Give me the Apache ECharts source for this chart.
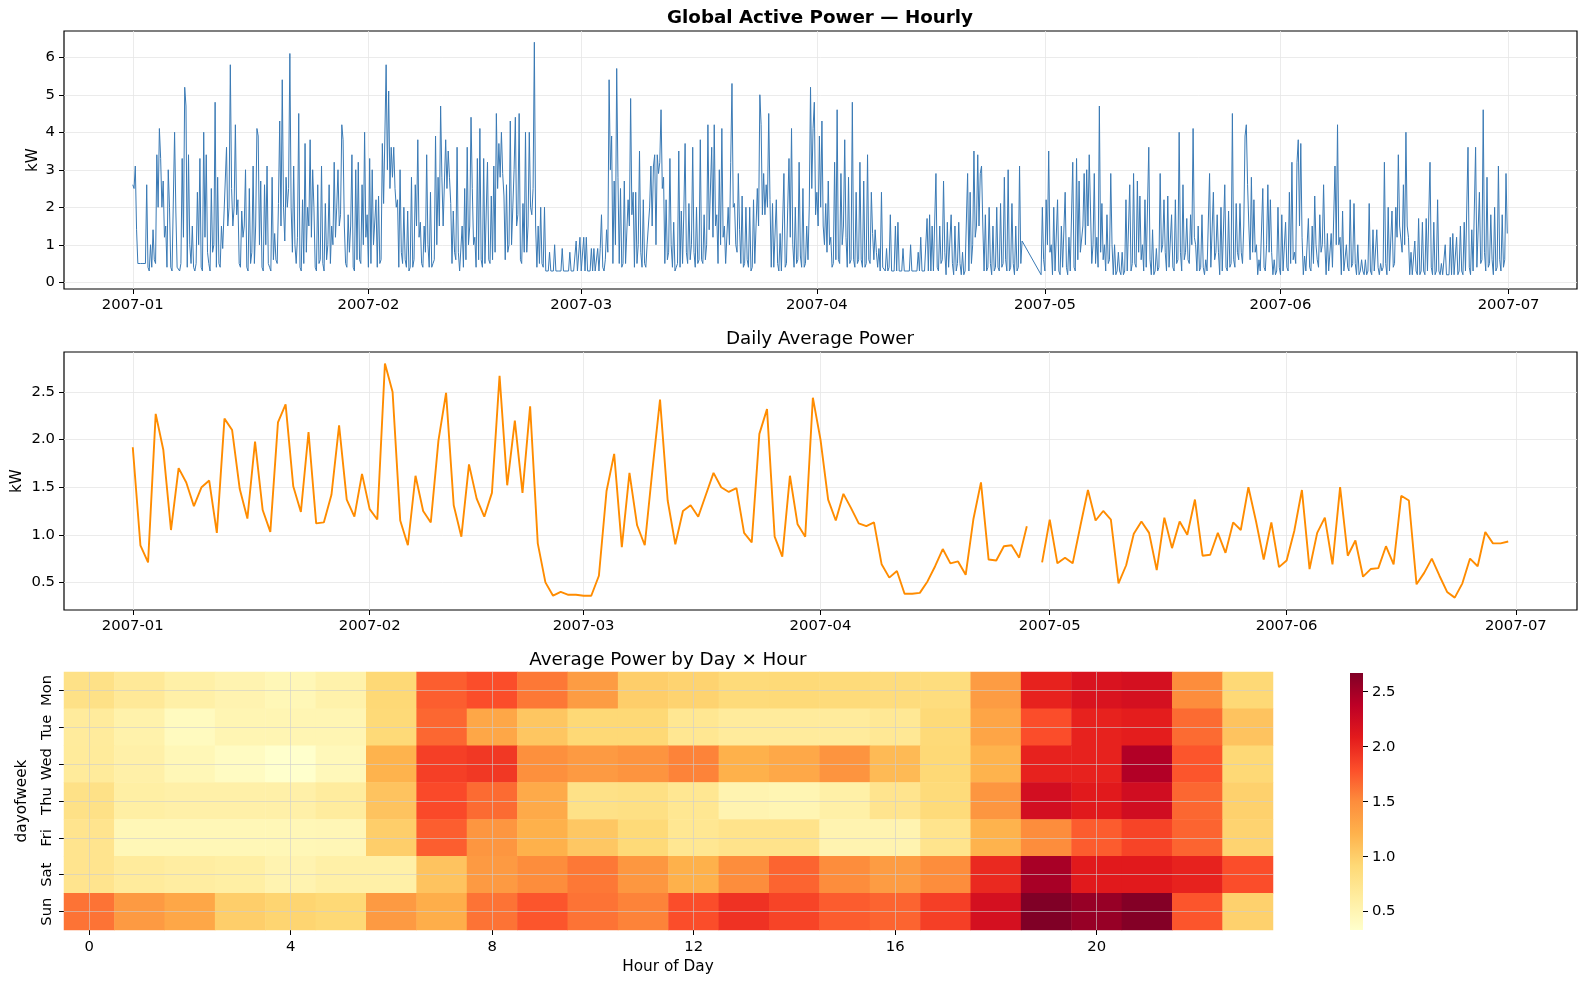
<!DOCTYPE html>
<html>
<head>
<meta charset="utf-8">
<title>Global Active Power</title>
<script src="https://cdn.jsdelivr.net/npm/echarts@6/dist/echarts.min.js"></script>
<style>
  html, body { margin: 0; padding: 0; background: #fff; }
  #main { width: 1587px; height: 986px; }
</style>
</head>
<body>
<div id="main"></div>
<script>
// ticks: day offset from 2007-01-01
var monthTicks = [0, 31, 59, 90, 120, 151, 181];
var monthLabels = ['2007-01', '2007-02', '2007-03', '2007-04', '2007-05', '2007-06', '2007-07'];
// hourly readings, sampled every 4 hours (0h,4h,8h,12h,16h,20h), one row per day
var slotHours = [0, 4, 8, 12, 16, 20];

var hourlyJan = [
  2.6,2.5,3.1,1.4,0.5,0.5,
  0.5,0.5,0.5,0.5,0.5,2.6,
  0.4,0.3,1.0,0.4,1.4,0.6,
  0.5,3.4,2.0,4.1,3.3,2.0,
  2.7,1.2,1.5,0.4,3.0,2.0,
  0.4,0.3,0.3,4.0,1.9,0.4,
  0.4,0.3,0.5,3.3,1.2,5.2,
  4.7,0.4,3.4,1.0,0.5,1.5,
  0.4,0.3,0.5,2.4,1.0,3.3,
  0.4,0.3,4.0,1.2,3.4,0.8,
  0.5,0.3,2.5,0.8,1.0,4.8,
  0.4,2.8,0.5,0.4,1.5,0.9,
  0.9,2.7,3.6,1.5,2.0,5.8,
  2.5,1.5,2.0,4.2,1.8,2.2,
  0.5,0.4,1.9,1.2,1.5,3.0,
  0.4,0.3,2.5,0.5,0.8,3.1,
  0.5,1.5,4.1,3.9,1.0,2.7,
  0.4,0.3,2.6,1.0,3.1,0.5,
  0.4,0.3,2.8,0.6,1.3,0.6,
  0.5,2.1,4.3,1.5,5.4,2.0,
  1.1,2.8,2.0,2.5,6.1,2.0,
  0.8,3.1,1.0,0.5,1.2,4.5,
  0.4,0.3,2.2,0.5,3.7,0.8,
  2.0,1.5,3.8,1.2,3.0,2.0,
  0.4,0.3,2.6,0.5,0.6,3.1,
  0.5,0.3,2.1,0.6,1.0,2.6,
  0.5,1.5,1.0,3.2,1.2,2.0,
  3.0,1.5,1.8,4.2,3.8,1.5,
  0.5,0.4,1.8,0.8,1.5,3.4,
  0.4,0.3,3.0,0.6,3.2,0.6,
  0.5,2.6,1.0,4.0,1.2,1.8
];
var hourlyFeb = [
  0.4,3.3,0.5,3.0,1.0,1.0,
  2.2,0.4,2.3,0.5,0.6,3.7,
  2.1,3.9,5.8,3.0,5.1,2.5,
  3.6,2.8,3.6,2.5,2.0,2.2,
  0.4,3.0,0.8,0.5,2.0,0.6,
  0.4,1.9,0.3,0.4,2.8,0.4,
  0.6,2.6,1.5,3.8,1.2,1.6,
  0.5,0.4,1.5,0.8,3.4,1.0,
  0.4,2.4,0.4,0.5,0.6,3.9,
  1.0,2.8,1.5,4.7,2.8,1.5,
  1.5,3.8,2.5,3.5,2.8,2.1,
  0.5,1.9,0.8,0.6,3.6,0.8,
  0.3,0.3,1.5,0.4,2.5,0.6,
  3.6,1.0,1.5,4.4,2.5,1.0,
  1.2,0.4,3.3,0.6,4.1,0.6,
  0.4,3.3,0.5,0.5,3.2,0.6,
  0.5,2.3,0.6,3.1,0.8,4.5,
  2.5,3.7,2.8,4.0,2.9,2.3,
  0.6,2.6,0.8,1.0,4.3,1.0,
  2.0,3.0,4.4,1.5,1.8,4.5,
  0.6,0.5,2.1,0.8,4.0,0.8,
  1.5,4.0,2.0,1.8,2.5,6.4,
  1.5,0.4,1.5,0.5,2.0,0.5,
  0.4,2.0,0.3,0.3,0.3,0.8,
  0.3,0.3,0.3,1.0,0.3,0.3,
  0.3,0.3,0.3,0.9,0.3,0.3,
  0.3,0.3,0.3,0.8,0.3,0.3,
  0.3,0.3,1.1,0.3,0.3,1.2
];
var hourlyMar = [
  0.3,0.3,1.2,0.3,1.2,0.3,
  0.3,0.3,0.9,0.3,0.9,0.3,
  0.3,0.9,0.3,0.9,1.8,0.4,
  0.3,0.6,1.4,0.8,5.4,3.0,
  3.9,0.5,2.7,1.0,5.7,2.8,
  0.5,2.5,0.4,0.5,2.7,0.5,
  0.5,2.2,1.5,4.9,1.8,2.4,
  0.4,2.4,0.5,1.0,3.5,0.8,
  0.4,2.2,0.5,0.4,1.0,1.0,
  2.0,3.1,1.5,3.1,3.4,1.0,
  3.4,2.9,3.2,4.6,2.5,2.8,
  0.5,2.2,0.6,0.8,3.3,1.0,
  0.4,1.6,0.3,0.4,0.5,3.5,
  0.4,1.9,0.5,1.9,3.7,0.8,
  0.5,2.1,0.6,1.0,3.6,0.8,
  0.4,2.0,0.5,0.6,3.8,0.6,
  0.5,1.8,0.6,1.0,4.2,1.4,
  1.4,3.6,1.2,4.2,1.5,1.8,
  0.5,3.0,1.0,4.1,1.2,1.5,
  0.5,0.5,2.0,1.0,3.2,5.3,
  2.0,2.1,1.0,0.8,2.9,1.4,
  0.5,2.3,0.4,0.5,2.0,0.6,
  0.4,2.0,0.3,0.4,2.2,0.5,
  1.5,2.5,1.5,5.0,4.2,1.8,
  2.9,1.8,2.6,2.0,4.5,2.2,
  0.4,2.1,0.4,0.4,2.2,0.5,
  0.3,1.3,0.3,0.3,2.9,0.4,
  0.5,2.0,3.3,1.2,4.1,1.0,
  0.4,2.0,0.5,0.6,3.2,0.7,
  0.4,2.5,0.4,0.5,1.5,0.6,
  2.0,5.2,2.5,4.1,4.8,1.8
];
var hourlyApr = [
  2.4,1.5,3.9,2.0,4.3,1.5,
  1.0,2.1,0.8,2.7,1.0,1.2,
  0.4,0.5,3.2,0.6,4.6,0.6,
  0.5,2.9,1.0,1.5,3.8,1.2,
  0.4,2.8,0.5,0.6,4.8,0.6,
  0.4,2.4,0.5,0.6,3.2,0.6,
  0.4,2.7,0.4,0.5,3.4,0.6,
  0.5,2.4,1.3,0.6,1.4,0.8,
  0.4,0.9,0.3,2.4,0.4,0.4,
  0.3,0.9,0.3,0.4,1.8,0.3,
  0.3,0.3,1.5,0.3,1.6,0.3,
  0.3,0.3,0.9,0.3,0.3,0.3,
  0.3,0.3,1.0,0.3,0.3,0.3,
  0.3,0.3,0.8,0.3,1.2,0.3,
  0.3,0.3,0.3,1.7,0.3,1.8,
  0.3,1.5,0.3,0.3,2.9,0.4,
  0.3,1.5,0.5,0.6,2.7,0.8,
  0.2,1.6,0.4,0.4,1.8,0.5,
  0.2,1.5,0.3,0.5,1.6,0.5,
  0.2,0.8,0.2,0.3,0.3,2.9,
  0.3,2.4,0.5,1.0,3.5,1.2,
  1.5,3.4,1.5,2.9,3.1,1.5,
  0.3,1.8,0.3,0.4,2.0,0.5,
  0.2,1.5,0.3,0.4,2.0,0.4,
  0.3,2.1,0.4,0.5,2.8,0.6,
  0.3,3.0,0.3,0.4,2.1,0.5,
  0.2,1.5,0.3,0.4,3.1,0.5,
  1.1,null,null,null,null,null,
  null,null,null,null,null,null,
  null,null,null,0.2,2.0,0.6
];
var hourlyMay = [
  0.3,2.2,1.0,3.5,0.8,1.0,
  0.2,2.0,0.3,0.3,2.2,0.3,
  0.2,1.5,0.4,0.4,2.4,0.4,
  0.2,1.2,0.3,0.3,3.2,0.4,
  0.3,3.3,0.6,2.7,0.8,0.8,
  1.5,2.9,1.0,3.0,1.5,3.4,
  3.4,0.5,1.0,2.9,0.5,1.2,
  0.4,4.7,0.8,2.1,0.6,1.0,
  0.3,1.8,0.5,0.6,2.9,1.0,
  0.2,1.0,0.2,0.3,0.8,0.3,
  0.2,0.8,0.2,0.3,2.2,0.3,
  0.3,2.6,0.3,0.5,2.9,0.5,
  0.4,2.7,0.8,2.3,0.6,1.0,
  0.3,2.2,0.4,0.4,3.6,0.6,
  0.2,1.4,0.2,0.3,0.9,0.3,
  0.4,2.9,0.8,1.0,2.2,0.8,
  0.3,2.3,0.4,0.4,1.8,0.4,
  0.3,2.2,0.5,0.6,4.0,0.8,
  0.3,2.6,0.6,0.8,1.7,0.6,
  0.5,1.8,1.0,4.1,1.2,1.0,
  0.3,1.5,0.3,0.4,1.8,0.4,
  0.2,0.6,0.3,0.3,2.9,0.4,
  0.4,2.4,0.6,0.8,1.8,0.8,
  0.2,2.0,0.3,0.3,2.6,0.4,
  0.3,1.9,0.4,0.5,4.5,0.6,
  0.4,2.1,0.8,0.6,2.1,0.8,
  0.5,1.5,3.9,4.2,2.6,1.5,
  0.6,2.8,0.8,2.2,0.8,1.0,
  0.2,0.6,0.3,0.3,2.5,0.4,
  0.3,1.0,2.6,0.8,2.2,0.8,
  0.2,0.6,0.2,0.3,2.0,0.4
];
var hourlyJun = [
  0.2,1.8,0.3,0.3,1.6,0.4,
  0.3,2.4,0.5,3.2,0.6,0.8,
  0.5,3.2,3.8,1.5,3.7,1.2,
  0.2,0.7,0.3,0.3,1.7,0.4,
  0.3,1.5,0.5,2.3,1.0,0.6,
  0.4,1.8,0.8,1.0,2.6,1.0,
  0.2,1.3,0.3,0.3,1.3,0.4,
  0.4,3.1,1.0,4.2,1.0,1.2,
  0.2,1.9,0.3,0.3,1.0,0.4,
  0.3,2.2,0.4,0.5,2.1,0.5,
  0.2,1.0,0.2,0.3,0.6,0.3,
  0.2,0.6,0.2,0.3,2.1,0.3,
  0.2,1.4,0.3,0.3,1.4,0.4,
  0.2,0.5,0.3,0.4,3.2,0.5,
  0.2,2.0,0.3,0.3,1.9,0.4,
  0.5,2.0,1.2,3.4,1.5,1.5,
  0.8,2.6,1.0,4.0,1.5,1.2,
  0.2,0.8,0.2,0.2,1.1,0.3,
  0.2,1.7,0.2,0.3,1.6,0.3,
  0.2,1.7,0.3,0.3,3.2,0.4,
  0.2,1.6,0.2,0.3,2.2,0.3,
  0.2,0.5,0.2,0.2,1.0,0.2,
  0.2,0.2,1.2,0.2,1.3,0.2,
  0.2,1.2,0.2,0.3,1.5,0.3,
  0.2,1.6,0.3,0.3,3.6,0.4,
  0.2,1.4,0.3,0.3,3.6,0.4,
  0.4,2.4,0.5,0.6,4.6,0.8,
  0.3,2.8,0.4,0.5,1.8,0.6,
  0.2,2.0,0.3,0.4,3.1,0.6,
  0.3,1.8,0.4,0.6,2.9,1.3
];

// daily averages (kW), null = missing day
var dailyJan = [1.92,0.89,0.71,2.27,1.89,1.05,1.70,1.55,1.30,1.50,1.57,1.02,2.22,2.10,1.48,1.17,1.98,1.26,1.03,2.18,2.37,1.51,1.24,2.08,1.12,1.13,1.42,2.15,1.37,1.19,1.64];
var dailyFeb = [1.27,1.16,2.80,2.50,1.15,0.89,1.62,1.25,1.13,1.99,2.49,1.31,0.98,1.74,1.38,1.19,1.44,2.67,1.52,2.20,1.44,2.35,0.91,0.50,0.36,0.40,0.37,0.37];
var dailyMar = [0.36,0.36,0.57,1.46,1.85,0.87,1.65,1.10,0.89,1.68,2.42,1.36,0.90,1.25,1.31,1.19,1.42,1.65,1.50,1.45,1.49,1.02,0.92,2.06,2.32,0.98,0.77,1.62,1.11,0.98,2.44];
var dailyApr = [2.00,1.37,1.15,1.43,1.28,1.12,1.09,1.13,0.69,0.55,0.62,0.38,0.38,0.39,0.51,0.67,0.85,0.70,0.72,0.58,1.16,1.55,0.74,0.73,0.88,0.89,0.76,1.09,null,0.71];
var dailyMay = [1.16,0.70,0.76,0.70,1.09,1.47,1.15,1.25,1.16,0.49,0.68,1.01,1.14,1.02,0.63,1.18,0.86,1.14,1.00,1.37,0.78,0.79,1.02,0.81,1.13,1.05,1.50,1.14,0.74,1.13,0.66];
var dailyJun = [0.73,1.04,1.47,0.64,1.02,1.18,0.69,1.50,0.78,0.94,0.56,0.64,0.65,0.88,0.69,1.41,1.36,0.48,0.60,0.75,0.57,0.40,0.34,0.49,0.75,0.67,1.03,0.91,0.91,0.93];

// average power by weekday x hour
var weekdays = ['Mon', 'Tue', 'Wed', 'Thu', 'Fri', 'Sat', 'Sun'];
var hourCats = [];
for (var h = 0; h < 24; h++) hourCats.push(String(h));
var heatMon = [0.80,0.68,0.58,0.52,0.47,0.55,0.92,1.72,1.80,1.60,1.38,1.00,0.96,0.89,0.90,0.89,0.87,0.86,1.38,2.04,2.16,2.20,1.50,0.92];
var heatTue = [0.65,0.55,0.42,0.50,0.50,0.50,0.90,1.68,1.30,1.06,0.92,0.92,0.72,0.65,0.65,0.65,0.70,0.90,1.31,1.80,2.04,2.07,1.66,1.08];
var heatWed = [0.66,0.57,0.47,0.40,0.333,0.45,1.20,1.88,1.92,1.48,1.40,1.45,1.55,1.22,1.29,1.45,1.15,0.92,1.20,2.04,2.04,2.43,1.76,0.92];
var heatThu = [0.80,0.60,0.57,0.57,0.57,0.64,1.08,1.82,1.66,1.27,0.80,0.82,0.72,0.52,0.50,0.58,0.75,0.89,1.43,2.22,2.10,2.23,1.68,0.98];
var heatFri = [0.75,0.47,0.47,0.47,0.47,0.48,1.00,1.72,1.43,1.22,1.05,0.90,0.72,0.77,0.77,0.52,0.52,0.76,1.20,1.50,1.73,1.85,1.69,0.96];
var heatSat = [0.75,0.65,0.62,0.60,0.52,0.58,0.58,1.08,1.40,1.50,1.60,1.42,1.22,1.50,1.69,1.50,1.38,1.50,2.00,2.48,2.10,2.10,2.04,1.80];
var heatSun = [1.62,1.40,1.30,1.00,0.95,0.92,1.40,1.24,1.62,1.76,1.62,1.55,1.80,1.95,1.85,1.73,1.69,1.88,2.20,2.67,2.56,2.65,1.76,0.98];

var ylOrRd = ['#ffffcc', '#ffeda0', '#fed976', '#feb24c', '#fd8d3c', '#fc4e2a', '#e31a1c', '#bd0026', '#800026'];

// build series data
var hourlyData = [];
var dayNo = 0;
[hourlyJan, hourlyFeb, hourlyMar, hourlyApr, hourlyMay, hourlyJun].forEach(function (month) {
  for (var i = 0; i < month.length; i += 6) {
    for (var s = 0; s < 6; s++) {
      var v = month[i + s];
      if (v !== null) hourlyData.push([dayNo + slotHours[s] / 24, v]);
    }
    dayNo++;
  }
});

var dailyData = dailyJan.concat(dailyFeb, dailyMar, dailyApr, dailyMay, dailyJun).map(function (v, i) {
  return [i, v];
});

var heatRows = [heatMon, heatTue, heatWed, heatThu, heatFri, heatSat, heatSun];
var heatData = [];
var heatMin = Infinity, heatMax = -Infinity;
heatRows.forEach(function (row, d) {
  row.forEach(function (v, hr) {
    heatData.push([hr, d, v]);
    heatMin = Math.min(heatMin, v);
    heatMax = Math.max(heatMax, v);
  });
});

var FONT = 'DejaVu Sans';
var gridLine = { show: true, lineStyle: { color: '#e6e6e6', width: 0.8 } };
var tickStyle = { color: '#000', width: 1 };
var labelStyle = { color: '#000', fontSize: 14.8, fontFamily: FONT };

function monthLabel(v) {
  var i = monthTicks.indexOf(Math.round(v));
  return i >= 0 ? monthLabels[i] : '';
}

function timeAxis(gridIndex, min, max) {
  return {
    type: 'value', gridIndex: gridIndex, min: min, max: max,
    axisLine: { show: false, onZero: false },
    axisTick: { show: true, length: 5, lineStyle: tickStyle, customValues: monthTicks },
    axisLabel: Object.assign({ margin: 9, formatter: monthLabel, customValues: monthTicks }, labelStyle),
    splitLine: gridLine
  };
}

function kwAxis(gridIndex, min, max, ticks, fmt) {
  return {
    type: 'value', gridIndex: gridIndex, min: min, max: max,
    axisLine: { show: false, onZero: false },
    axisTick: { show: true, length: 5, lineStyle: tickStyle, customValues: ticks },
    axisLabel: Object.assign({ margin: 9, formatter: fmt, customValues: ticks }, labelStyle),
    splitLine: gridLine
  };
}

function txt(x, y, text, opts) {
  opts = opts || {};
  return {
    type: 'text', x: x, y: y, rotation: opts.rotate ? Math.PI / 2 : 0,
    style: {
      text: text, fill: '#000',
      font: (opts.bold ? 'bold ' : '') + (opts.size || 15.3) + 'px "' + FONT + '"',
      textAlign: 'center', textVerticalAlign: 'middle',
      align: 'center', verticalAlign: 'middle'
    }
  };
}

var myChart = echarts.init(document.getElementById('main'), null, { renderer: 'canvas' });

var frame = { show: true, borderColor: '#000', borderWidth: 1.2, backgroundColor: 'transparent' };

var option = {
  animation: false,
  backgroundColor: '#fff',
  grid: [
    Object.assign({ left: 64, top: 31, width: 1513, height: 258 }, frame),
    Object.assign({ left: 64, top: 352, width: 1513, height: 258 }, frame),
    { left: 64, top: 672, width: 1209, height: 258 },
    { left: 1350, top: 673, width: 13, height: 257 }
  ],
  xAxis: [
    timeAxis(0, -9.048, 190.006),
    timeAxis(1, -9, 189),
    {
      type: 'category', gridIndex: 2, data: hourCats,
      axisLine: { show: false, onZero: false },
      axisTick: {
        show: true, length: 5, alignWithLabel: true, lineStyle: tickStyle,
        interval: function (i) { return i % 4 === 0; }
      },
      axisLabel: Object.assign({ margin: 10, interval: function (i) { return i % 4 === 0; } }, labelStyle),
      splitLine: { show: false }
    },
    { type: 'value', gridIndex: 3, show: false }
  ],
  yAxis: [
    kwAxis(0, -0.18, 6.70, [0, 1, 2, 3, 4, 5, 6], function (v) { return String(v); }),
    kwAxis(1, 0.21, 2.92, [0.5, 1.0, 1.5, 2.0, 2.5], function (v) { return v.toFixed(1); }),
    {
      type: 'category', gridIndex: 2, data: weekdays, inverse: true,
      axisLine: { show: false, onZero: false },
      axisTick: { show: true, length: 5, alignWithLabel: true, interval: 0, lineStyle: tickStyle },
      axisLabel: Object.assign({ rotate: 90, margin: 9, interval: 0, hideOverlap: false }, labelStyle),
      splitLine: { show: false }
    },
    {
      type: 'value', gridIndex: 3, position: 'right', min: heatMin, max: heatMax,
      axisLine: { show: false, onZero: false },
      axisTick: { show: true, length: 5, lineStyle: tickStyle, customValues: [0.5, 1.0, 1.5, 2.0, 2.5] },
      axisLabel: Object.assign({
        margin: 9, customValues: [0.5, 1.0, 1.5, 2.0, 2.5],
        formatter: function (v) { return v.toFixed(1); }
      }, labelStyle),
      splitLine: { show: false }
    }
  ],
  visualMap: {
    type: 'continuous', show: false, seriesIndex: 2,
    min: heatMin, max: heatMax,
    inRange: { color: ylOrRd }
  },
  series: [
    {
      name: 'Hourly', type: 'line', xAxisIndex: 0, yAxisIndex: 0,
      data: hourlyData, showSymbol: false, symbol: 'none', silent: true,
      lineStyle: { color: '#3a7ab5', width: 1.0 }
    },
    {
      name: 'Daily', type: 'line', xAxisIndex: 1, yAxisIndex: 1,
      data: dailyData, showSymbol: false, symbol: 'none', connectNulls: false, silent: true,
      lineStyle: { color: '#ff8c00', width: 1.9 }
    },
    {
      name: 'Heat', type: 'heatmap', xAxisIndex: 2, yAxisIndex: 2,
      data: heatData, silent: true,
      markLine: {
        silent: true, symbol: ['none', 'none'], animation: false,
        label: { show: false },
        lineStyle: { color: 'rgba(205,205,205,0.6)', width: 1, type: 'solid' },
        data: [
          { xAxis: '0' }, { xAxis: '4' }, { xAxis: '8' }, { xAxis: '12' }, { xAxis: '16' }, { xAxis: '20' }
        ].concat(weekdays.map(function (d) { return { yAxis: d }; }))
      }
    },
    { type: 'line', xAxisIndex: 3, yAxisIndex: 3, data: [] }
  ],
  graphic: [
    {
      type: 'rect', shape: { x: 1350, y: 673, width: 13, height: 257 },
      style: {
        fill: new echarts.graphic.LinearGradient(0, 1, 0, 0, ylOrRd.map(function (c, i) {
          return { offset: i / (ylOrRd.length - 1), color: c };
        }))
      }
    },
    txt(820, 18.5, 'Global Active Power \u2014 Hourly', { bold: true, size: 18.3 }),
    txt(820, 339.5, 'Daily Average Power', { size: 18.3 }),
    txt(668, 660.5, 'Average Power by Day \u00d7 Hour', { size: 18.3 }),
    txt(33, 160, 'kW', { rotate: true }),
    txt(17, 481, 'kW', { rotate: true }),
    txt(22, 801, 'dayofweek', { rotate: true }),
    txt(668, 967, 'Hour of Day')
  ]
};

myChart.setOption(option);
</script>
</body>
</html>
